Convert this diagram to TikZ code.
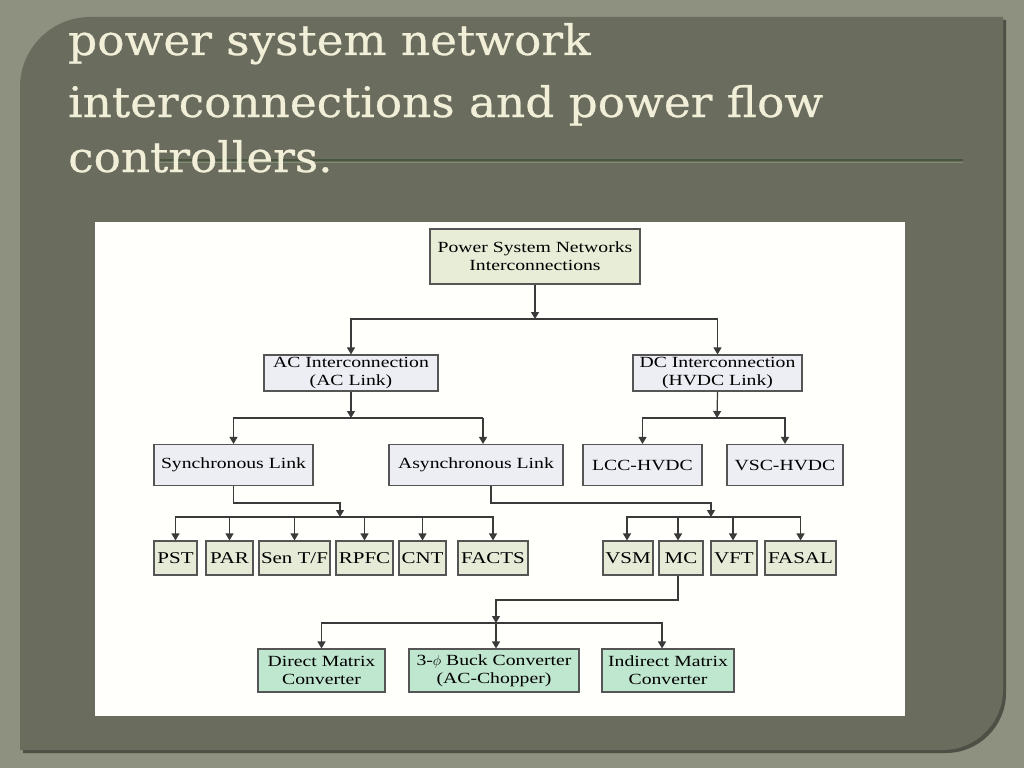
\documentclass[tikz,border=0pt]{standalone}
\usepackage{fontspec}
\usetikzlibrary{arrows.meta}
\newfontfamily\dfont[FakeStretch=1.27]{Liberation Serif}
\newfontfamily\tfont[FakeStretch=1.08,FakeBold=0.6]{DejaVu Serif}
\definecolor{outerbg}{HTML}{8E917F}
\definecolor{panel}{HTML}{6A6D5E}
\definecolor{panelshadow}{HTML}{4E5046}
\definecolor{titlecol}{HTML}{F2EFD9}
\definecolor{rule1}{HTML}{49563F}
\definecolor{rule2}{HTML}{7E8C72}
\definecolor{diagbg}{HTML}{FFFFFB}
\definecolor{boxline}{HTML}{555555}
\definecolor{linecol}{HTML}{3A3A3A}
\definecolor{fgreen}{HTML}{E8EDD8}
\definecolor{fgray}{HTML}{ECEEF4}
\definecolor{fsmall}{HTML}{E6EBD8}
\definecolor{fmint}{HTML}{BFE6CE}
\tikzset{
  box/.style={draw=boxline, line width=1.1pt, inner sep=0pt, align=center,
    font=\dfont\fontsize{15.5}{18}\selectfont},
  sbox/.style={box, fill=fsmall, minimum height=34pt,
    font=\dfont\fontsize{16.5}{18}\selectfont},
  arr/.style={draw=linecol, line width=1.2pt, -{Triangle[length=7pt,width=8pt]}},
  ln/.style={draw=linecol, line width=1.2pt},
  ttl/.style={anchor=base west, inner sep=0pt, text=titlecol,
    font=\tfont\fontsize{42}{50}\selectfont}
}
\begin{document}
\begin{tikzpicture}[x=1pt,y=-1pt]
\useasboundingbox (0,0) rectangle (1024,768);
\fill[outerbg] (0,0) rectangle (1024,768);
% panel shadow
\fill[panelshadow] (23,753) -- (23,90) .. controls (23,51) and (54,20) .. (93,20)
  -- (1006,20) -- (1006,693) .. controls (1006,726) and (979,753) .. (946,753) -- cycle;
% panel
\fill[panel] (20,750) -- (20,87) .. controls (20,48.5) and (51.5,17) .. (90,17)
  -- (1003,17) -- (1003,690) .. controls (1003,723) and (976,750) .. (943,750) -- cycle;
% title rule
\draw[rule1, line width=1.6pt] (160,160) -- (963,160);
\draw[rule2, line width=0.8pt] (160,162) -- (963,162);
% title
\node[ttl] (t1) at (68,55) {power system network};
\node[ttl] (t2) at (68,117) {interconnections and power flow};
\node[ttl] (t3) at (68,172) {controllers.};
% diagram area
\fill[diagbg] (95,222) rectangle (905,716);
% nodes
\node[box, fill=fgreen, minimum width=210pt, minimum height=55pt] (top) at (535,256.5)
  {Power System Networks\\Interconnections};
\node[box, fill=fgray, minimum width=174pt, minimum height=36pt] (ac) at (351,373)
  {AC Interconnection\\(AC Link)};
\node[box, fill=fgray, minimum width=169pt, minimum height=36pt] (dc) at (717.5,373)
  {DC Interconnection\\(HVDC Link)};
\node[box, fill=fgray, minimum width=159pt, minimum height=41pt] (syn) at (233.5,465)
  {Synchronous Link};
\node[box, fill=fgray, minimum width=174pt, minimum height=41pt] (asyn) at (476,465)
  {Asynchronous Link};
\node[box, fill=fgray, minimum width=119pt, minimum height=41pt] (lcc) at (642.5,465)
  {LCC-HVDC};
\node[box, fill=fgray, minimum width=116pt, minimum height=41pt] (vsc) at (785,465)
  {VSC-HVDC};
\node[sbox, minimum width=43pt] (pst) at (175.5,558) {PST};
\node[sbox, minimum width=47pt] (par) at (229.5,558) {PAR};
\node[sbox, minimum width=71pt] (sen) at (294.5,558) {Sen T/F};
\node[sbox, minimum width=57pt] (rpfc) at (364.5,558) {RPFC};
\node[sbox, minimum width=47pt] (cnt) at (422.5,558) {CNT};
\node[sbox, minimum width=70pt] (facts) at (493,558) {FACTS};
\node[sbox, minimum width=50pt] (vsm) at (628,558) {VSM};
\node[sbox, minimum width=44pt] (mc) at (681,558) {MC};
\node[sbox, minimum width=46pt] (vft) at (734,558) {VFT};
\node[sbox, minimum width=71pt] (fasal) at (800.5,558) {FASAL};
\node[box, fill=fmint, minimum width=127pt, minimum height=43pt] (dmc) at (321.5,670.5)
  {Direct Matrix\\Converter};
\node[box, fill=fmint, minimum width=170pt, minimum height=43pt] (buck) at (494,670.5)
  {3-$\phi$ Buck Converter\\(AC-Chopper)};
\node[box, fill=fmint, minimum width=132pt, minimum height=43pt] (imc) at (668,670.5)
  {Indirect Matrix\\Converter};
% junction coordinates
\coordinate (b1) at (535,319);
\coordinate (b2) at (351,418);
\coordinate (b2r) at (483,418);
\coordinate (b3) at (717,418);
\coordinate (s1) at (340,503);
\coordinate (s2) at (340,517);
\coordinate (a0) at (491,486);
\coordinate (a1) at (711,503);
\coordinate (a2) at (711,517);
\coordinate (m1) at (496,600);
\coordinate (m2) at (496,623);
% connectors level 1
\draw[arr] (top.south) -- (b1);
\draw[arr] (b1) -| (ac.north);
\draw[arr] (b1) -| (dc.north);
% AC children
\draw[arr] (ac.south) -- (b2);
\draw[arr] (b2) -| (syn.north);
\draw[ln] (b2) -- (b2r);
\draw[arr] (b2r) -- (b2r |- asyn.north);
% DC children
\draw[arr] (dc.south) -- (b3);
\draw[arr] (b3) -| (lcc.north);
\draw[arr] (b3) -| (vsc.north);
% synchronous group
\draw[arr] (syn.south) |- (s1) -- (s2);
\draw[arr] (s2) -| (pst.north);
\draw[arr] (s2) -| (par.north);
\draw[arr] (s2) -| (sen.north);
\draw[arr] (s2) -| (rpfc.north);
\draw[arr] (s2) -| (cnt.north);
\draw[arr] (s2) -| (facts.north);
% asynchronous group
\draw[arr] (a0) |- (a1) -- (a2);
\draw[arr] (a2) -| ([xshift=-1pt]vsm.north);
\draw[arr] (a2) -| ([xshift=-3pt]mc.north);
\draw[arr] (a2) -| ([xshift=-1pt]vft.north);
\draw[arr] (a2) -| (fasal.north);
% MC group
\draw[arr] ([xshift=-3pt]mc.south) |- (m1) -- (m2);
\draw[arr] (m2) -| (dmc.north);
\draw[arr] (m2) -- (m2 |- buck.north);
\draw[arr] (m2) -| ([xshift=-6pt]imc.north);
\end{tikzpicture}
\end{document}
